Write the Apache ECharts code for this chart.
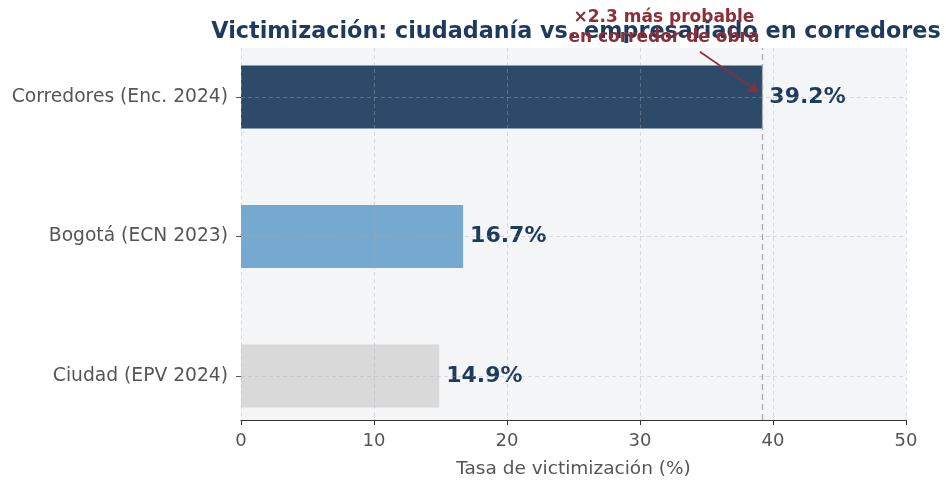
<!DOCTYPE html>
<html><head><meta charset="utf-8">
<script src="https://cdn.jsdelivr.net/npm/echarts@6/dist/echarts.min.js"></script>
<style>html,body{margin:0;padding:0;background:#fff}#c{width:946px;height:484px}</style>
</head><body><div id="c"></div>
<script>
const categories = ['Corredores (Enc. 2024)', 'Bogotá (ECN 2023)', 'Ciudad (EPV 2024)'];
const values = [39.2, 16.7, 14.9];
const barColors = ['#2d4a6b', '#76a9cf', '#d9d9d9'];
const xTicks = [0, 10, 20, 30, 40, 50];
const refValue = 39.2;
const annotationText = '×2.3 más probable\nen corredor de obra';
const arrowFrom = [34.5, 0.99];
const arrowTo = [38.9, 0.882];
const annotationAt = [31.8, 1.055];

const font = "'DejaVu Sans', sans-serif";
const chart = echarts.init(document.getElementById('c'));
const gridLine = {show: true, lineStyle: {color: 'rgba(170,170,180,0.38)', type: [4, 3], width: 1}};
chart.setOption({
  animation: false,
  title: {
    text: 'Victimización: ciudadanía vs. empresariado en corredores',
    left: 571, top: 16, textAlign: 'center',
    textStyle: {fontFamily: font, fontSize: 22.3, fontWeight: 'bold', color: '#1f3a5f'}
  },
  grid: [
    {left: 241, right: 40, top: 48, bottom: 61, show: true, backgroundColor: '#f4f5f7', borderWidth: 0},
    {left: 241, right: 40, top: 97, bottom: 108}
  ],
  xAxis: [
    {gridIndex: 0, type: 'value', min: xTicks[0], max: xTicks[xTicks.length - 1], interval: 10, z: 5,
     axisLine: {show: true, lineStyle: {color: '#333', width: 1.2}},
     axisTick: {show: true, length: 5, lineStyle: {color: '#333'}},
     axisLabel: {fontFamily: font, fontSize: 18, color: '#555', margin: 12},
     splitLine: gridLine,
     name: 'Tasa de victimización (%)', nameLocation: 'middle', nameGap: 40,
     nameTextStyle: {fontFamily: font, fontSize: 18.5, color: '#555'}},
    {gridIndex: 1, type: 'value', min: 0, max: 50, show: false}
  ],
  yAxis: [
    {gridIndex: 0, type: 'value', min: 0, max: 1, show: false},
    {gridIndex: 1, type: 'category', data: categories, inverse: true, boundaryGap: false, z: 5,
     axisLine: {show: false},
     axisTick: {show: true, length: 5, lineStyle: {color: '#555'}},
     axisLabel: {fontFamily: font, fontSize: 18.7, color: '#555', margin: 13},
     splitLine: gridLine}
  ],
  series: [
    {type: 'bar', xAxisIndex: 1, yAxisIndex: 1, barWidth: 63, clip: false, z: 2,
     data: values.map((v, i) => ({value: v, itemStyle: {color: barColors[i]}})),
     label: {show: true, position: 'right', distance: 7, formatter: p => p.value.toFixed(1) + '%',
             fontFamily: font, fontSize: 22, fontWeight: 'bold', color: '#1f3a5f'}},
    {type: 'line', xAxisIndex: 0, yAxisIndex: 0, data: [], z: 6,
     markLine: {silent: true, symbol: 'none', label: {show: false},
       data: [{xAxis: refValue, lineStyle: {color: '#aaa', type: [6, 4], width: 1.3}}]}},
    {type: 'line', xAxisIndex: 0, yAxisIndex: 0, data: [], z: 7,
     markLine: {silent: true, symbol: ['none', 'arrow'], symbolSize: 10, label: {show: false},
       data: [[{coord: arrowFrom}, {coord: arrowTo}]],
       lineStyle: {color: '#8b2e35', type: 'solid', width: 1.6}}}
  ]
});
const pt = chart.convertToPixel({xAxisIndex: 0, yAxisIndex: 0}, annotationAt);
chart.setOption({
  graphic: [{type: 'text', x: pt[0], y: pt[1], z: 20,
    style: {text: annotationText, font: "bold 17px 'DejaVu Sans', sans-serif", fill: '#8b2e35',
            align: 'center', verticalAlign: 'middle', lineHeight: 20}}]
});
</script></body></html>
